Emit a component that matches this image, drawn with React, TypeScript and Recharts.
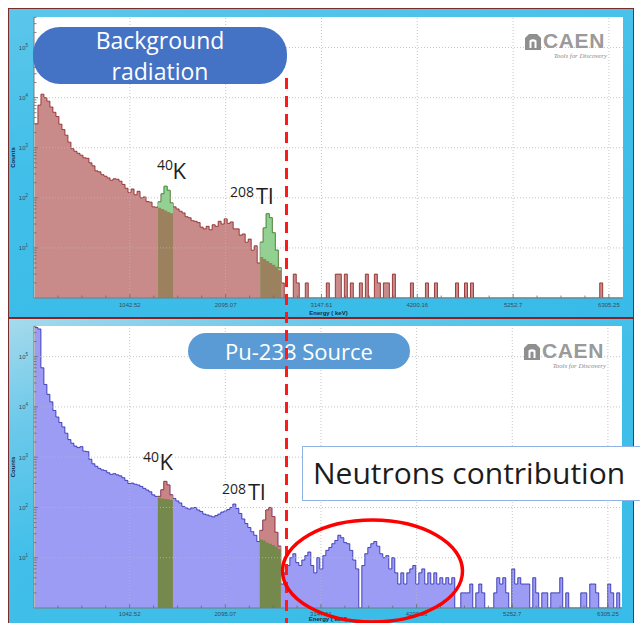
import React from 'react';
import { ComposedChart, Area, XAxis, YAxis, CartesianGrid, ReferenceLine } from 'recharts';

// ---------- data ----------
const BIN_KEV = 33;
const X_DOMAIN: [number, number] = [-10, 6460];
const X_TICKS = [1042.52, 2095.07, 3147.61, 4200.16, 5252.7, 6305.25];
const Y_MAJOR = [10, 100, 1000, 10000, 100000];
const Y_DOMAIN: [number, number] = [1, 407000];

// Background radiation spectrum (counts per 33 keV bin)
const bgCounts = [
  3000, 7100, 11700, 10000, 8500, 6500, 5100, 4200, 2950, 2300,
  1780, 1290, 955, 850, 775, 710, 630, 615, 500, 435,
  345, 330, 290, 270, 250, 225, 240, 235, 215, 185,
  155, 128, 150, 115, 135, 100, 104, 84, 82, 66,
  65, 83, 120, 170, 141, 79, 66, 60, 54, 50,
  42, 40, 35, 34, 32, 26, 24, 27, 23, 29,
  27, 34, 30, 38, 31, 33, 24, 24, 18, 19,
  13, 15, 9, 11, 5, 13, 25, 48, 40, 20,
  9, 4, 2, 1, 1, 1, 3, 2, 1, 1,
  2, 1, 1, 1, 1, 1, 1, 2, 1, 1,
  3, 3, 1, 3, 1, 2, 1, 1, 2, 1,
  3, 1, 1, 3, 2, 1, 2, 2, 1, 3,
  1, 1, 1, 1, 1, 2, 1, 1, 1, 1,
  2, 1, 1, 2, 1, 1, 1, 1, 1, 1,
  2, 1, 1, 2, 1, 2, 1, 1, 1, 1,
  1, 1, 1, 1, 1, 1, 1, 1, 1, 1,
  1, 1, 1, 1, 1, 1, 1, 1, 1, 1,
  1, 1, 1, 1, 1, 1, 1, 1, 1, 1,
  1, 1, 1, 1, 1, 1, 1, 1, 2, 1,
  1, 1, 1, 1, 1, 1,
];

// Pu-238 source spectrum (counts per 33 keV bin)
const puCounts = [
  380000, 355000, 60000, 28000, 17800, 12600, 8500, 6300, 4900, 4000,
  3000, 2240, 1900, 1660, 1550, 1620, 1320, 1290, 910, 740,
  660, 600, 560, 540, 490, 455, 470, 445, 425, 390,
  345, 300, 305, 290, 280, 262, 240, 222, 205, 178,
  166, 166, 224, 330, 280, 178, 151, 135, 123, 105,
  98, 93, 98, 100, 89, 83, 74, 71, 68, 65,
  69, 74, 81, 85, 91, 100, 117, 95, 76, 59,
  48, 40, 33, 28, 21, 35, 56, 89, 100, 66,
  32, 17, 3, 5, 7, 10, 12, 8, 7, 9,
  11, 13, 7, 5, 10, 6, 11, 14, 16, 19,
  22, 28, 25, 20, 19, 14, 9, 6, 1, 7,
  12, 16, 19, 21, 17, 12, 10, 11, 6, 10,
  5, 3, 5, 3, 5, 6, 7, 3, 5, 6,
  3, 5, 3, 5, 3, 4, 3, 4, 3, 4,
  1, 1, 2, 2, 2, 3, 1, 2, 3, 2,
  1, 1, 1, 2, 4, 3, 4, 2, 1, 6,
  3, 4, 3, 3, 3, 1, 4, 2, 1, 2,
  2, 1, 2, 2, 2, 4, 1, 2, 1, 1,
  1, 1, 2, 2, 1, 3, 3, 2, 1, 1,
  1, 3, 2, 1, 2, 1,
];

// Regions of interest (first bin index) and continuum under each peak
const K_START = 41;
const TL_START = 75;
const bgKBase = [63, 60, 56, 52, 49];
const bgTlBase = [6.6, 6.0, 5.5, 5.0, 4.6, 4.2, 3.6];
const puKBase = [155, 151, 148, 145, 141];
const puTlBase = [23, 22, 20, 19, 18, 16.6, 15];

type Row = { e: number; v: number; top: number | null; base: number | null };

function buildRows(counts: number[], kBase: number[], tlBase: number[]): Row[] {
  const rows: Row[] = counts.map((c, i) => ({ e: i * BIN_KEV, v: c, top: null, base: null }));
  rows.push({ e: X_DOMAIN[1], v: counts[counts.length - 1], top: null, base: null });
  const mark = (start: number, base: number[]) => {
    base.forEach((b, j) => {
      rows[start + j].top = counts[start + j];
      rows[start + j].base = b;
    });
    const end = start + base.length;
    rows[end].top = counts[end - 1];
    rows[end].base = base[base.length - 1];
  };
  mark(K_START, kBase);
  mark(TL_START, tlBase);
  return rows;
}

const bgRows = buildRows(bgCounts, bgKBase, bgTlBase);
const puRows = buildRows(puCounts, puKBase, puTlBase);

// axis ticks (major + minor)
const X_STEP = X_TICKS[1] - X_TICKS[0];
const X_ALL: number[] = [];
for (let k = -3; k <= 27; k++) {
  const v = k % 4 === 0 && k >= 0 ? X_TICKS[k / 4] : X_TICKS[0] + (k / 4) * X_STEP;
  if (v > X_DOMAIN[0] && v < X_DOMAIN[1]) X_ALL.push(v);
}
const Y_TICKS: number[] = [];
for (let p = 1; p <= 100000; p *= 10) {
  for (let m = 1; m <= 9; m++) {
    if (p * m < Y_DOMAIN[1] && p * m > 1) Y_TICKS.push(p * m);
  }
}

// ---------- ticks ----------
const AXIS_FONT = "'Liberation Sans', Arial, sans-serif";

const XTick = (props: any) => {
  const { x, y, payload, dir, showLabel, labelDy } = props;
  const v = payload.value;
  const major = X_TICKS.indexOf(v) >= 0;
  const len = major ? 4 : 2.5;
  return (
    <g>
      <line x1={x} x2={x} y1={y} y2={y + dir * len} stroke="#6a6a6a" strokeWidth={0.8} />
      {showLabel && major && (
        <text x={x} y={y + (labelDy || 8.5)} textAnchor="middle" fontSize={6} fill="#3c4a5c" fontFamily={AXIS_FONT}>
          {String(v)}
        </text>
      )}
    </g>
  );
};

const YTick = (props: any) => {
  const { x, y, payload, dir, showLabel } = props;
  const v = payload.value;
  const major = Y_MAJOR.indexOf(v) >= 0;
  const len = major ? 4 : 2.5;
  const exp = Math.round(Math.log10(v));
  return (
    <g>
      <line x1={x} x2={x + dir * len} y1={y} y2={y} stroke="#6a6a6a" strokeWidth={0.8} />
      {showLabel && major && (
        <text x={x - 6} y={y + 2.5} textAnchor="end" fontSize={6} fill="#3c4a5c" fontFamily={AXIS_FONT}>
          10
          <tspan dy={-3} fontSize={4.5}>
            {exp}
          </tspan>
        </text>
      )}
    </g>
  );
};

const XLabel = (props: any) => {
  const vb = props.viewBox || {};
  return (
    <text
      x={vb.x + vb.width / 2}
      y={vb.y + (props.dy || 17)}
      textAnchor="middle"
      fontSize={6}
      fontWeight="bold"
      fill="#1d2b45"
      fontFamily={AXIS_FONT}
    >
      Energy ( keV)
    </text>
  );
};

const YLabel = (props: any) => {
  const vb = props.viewBox || {};
  const cx = vb.x + 7;
  const cy = vb.y + vb.height / 2;
  return (
    <text
      x={cx}
      y={cy}
      transform={`rotate(-90 ${cx} ${cy})`}
      textAnchor="middle"
      fontSize={6}
      fontWeight="bold"
      fill="#1d2b45"
      fontFamily={AXIS_FONT}
    >
      Counts
    </text>
  );
};

// ---------- spectrum panel ----------
type Colors = { fill: string; stroke: string; peakFill: string; peakStroke: string; baseFill: string };

function Spectrum({
  rows,
  height,
  axisHeight,
  marginTop,
  marginRight,
  colors,
  tickDy,
  labelDy,
}: {
  rows: Row[];
  height: number;
  axisHeight: number;
  marginTop: number;
  marginRight: number;
  colors: Colors;
  tickDy: number;
  labelDy: number;
}) {
  return (
    <ComposedChart width={625} height={height} data={rows} margin={{ top: marginTop, right: marginRight, bottom: 0, left: 0 }}>
      <CartesianGrid fill="#ffffff" fillOpacity={1} horizontal={false} vertical={false} />
      <XAxis
        dataKey="e"
        type="number"
        domain={X_DOMAIN}
        allowDataOverflow
        ticks={X_ALL}
        interval={0}
        height={axisHeight}
        tickSize={0}
        tickMargin={0}
        tickLine={false}
        axisLine={{ stroke: '#7a7a7a' }}
        tick={<XTick dir={-1} showLabel labelDy={tickDy} />}
        label={<XLabel dy={labelDy} />}
      />
      <XAxis
        xAxisId="t"
        orientation="top"
        dataKey="e"
        type="number"
        domain={X_DOMAIN}
        allowDataOverflow
        ticks={X_ALL}
        interval={0}
        height={0}
        tickSize={0}
        tickMargin={0}
        tickLine={false}
        axisLine={{ stroke: '#7a7a7a' }}
        tick={<XTick dir={1} />}
      />
      <YAxis
        type="number"
        scale="log"
        domain={Y_DOMAIN}
        allowDataOverflow
        ticks={Y_TICKS}
        interval={0}
        width={26}
        tickSize={0}
        tickMargin={0}
        tickLine={false}
        axisLine={{ stroke: '#7a7a7a' }}
        tick={<YTick dir={1} showLabel />}
        label={<YLabel />}
      />
      <YAxis
        yAxisId="r"
        orientation="right"
        type="number"
        scale="log"
        domain={Y_DOMAIN}
        allowDataOverflow
        ticks={Y_TICKS}
        interval={0}
        width={0}
        tickSize={0}
        tickMargin={0}
        tickLine={false}
        axisLine={{ stroke: '#7a7a7a' }}
        tick={<YTick dir={-1} />}
      />
      <Area
        type="stepAfter"
        dataKey="v"
        baseValue={1}
        stroke={colors.stroke}
        strokeWidth={0.8}
        fill={colors.fill}
        fillOpacity={1}
        dot={false}
        activeDot={false}
        isAnimationActive={false}
      />
      <Area
        type="stepAfter"
        dataKey="top"
        baseValue={1}
        stroke={colors.peakStroke}
        strokeWidth={0.8}
        fill={colors.peakFill}
        fillOpacity={1}
        dot={false}
        activeDot={false}
        isAnimationActive={false}
      />
      <Area
        type="stepAfter"
        dataKey="base"
        baseValue={1}
        stroke="none"
        fill={colors.baseFill}
        fillOpacity={1}
        dot={false}
        activeDot={false}
        isAnimationActive={false}
      />
      {X_TICKS.map((t) => (
        <ReferenceLine key={'gx' + t} x={t} stroke="#b8b8b8" strokeWidth={0.8} strokeDasharray="1 2" />
      ))}
      {Y_MAJOR.map((t) => (
        <ReferenceLine key={'gy' + t} y={t} stroke="#b8b8b8" strokeWidth={0.8} strokeDasharray="1 2" />
      ))}
    </ComposedChart>
  );
}

// ---------- decorations ----------
function CaenLogo({ left, top }: { left: number; top: number }) {
  return (
    <div style={{ position: 'absolute', left, top, width: 90, height: 30 }}>
      <svg width={18} height={18} style={{ position: 'absolute', left: 0, top: 0 }}>
        <path d="M5 1 L13 1 L17 5 L17 17 L1 17 L1 5 Z" fill="#8f8f8f" />
        <path d="M5.5 15 L5.5 7.5 Q9 5 12.5 7.5 L12.5 15 L10.5 15 L10.5 9 Q9 8 7.5 9 L7.5 15 Z" fill="#ffffff" />
      </svg>
      <div
        style={{
          position: 'absolute',
          left: 19,
          top: -4,
          fontFamily: AXIS_FONT,
          fontWeight: 'bold',
          fontSize: 21,
          letterSpacing: 0.6,
          color: '#9a9a9a',
          lineHeight: '24px',
        }}
      >
        CAEN
      </div>
      <div
        style={{
          position: 'absolute',
          right: 7,
          top: 19,
          fontFamily: "'Liberation Serif', serif",
          fontStyle: 'italic',
          fontSize: 6.8,
          color: '#8a8a8a',
          whiteSpace: 'nowrap',
          lineHeight: '8px',
        }}
      >
        Tools for Discovery
      </div>
    </div>
  );
}

const SLIDE_FONT = "'Open Sans', 'Noto Sans', sans-serif";

export default function App() {
  const bgColors: Colors = {
    fill: '#c98a8a',
    stroke: '#8a1c1c',
    peakFill: '#92d192',
    peakStroke: '#3f9c3f',
    baseFill: '#9b815d',
  };
  const puColors: Colors = {
    fill: '#9c9cf4',
    stroke: '#2222ae',
    peakFill: '#c98585',
    peakStroke: '#a33a3a',
    baseFill: '#76894c',
  };
  return (
    <div style={{ position: 'absolute', left: 0, top: 0, width: 640, height: 623, overflow: 'hidden', background: '#ffffff' }}>
      {/* top panel frame */}
      <div
        style={{
          position: 'absolute',
          left: 8,
          top: 8,
          width: 626,
          height: 310,
          boxSizing: 'border-box',
          border: '1px solid #7c2c2c',
          background: 'linear-gradient(170deg, #5cc6ea 0%, #41bfe9 40%, #38bbe8 100%)',
        }}
      />
      {/* bottom panel frame */}
      <div
        style={{
          position: 'absolute',
          left: 8,
          top: 317,
          width: 626,
          height: 320,
          boxSizing: 'border-box',
          border: '1px solid #7c2c2c',
          borderTop: '2px solid #8a2424',
          background: 'linear-gradient(160deg, #a6daec 0%, #6cc9ea 20%, #41bfe9 45%, #38bbe8 100%)',
        }}
      />
      <div style={{ position: 'absolute', left: 8, top: 8 }}>
        <Spectrum rows={bgRows} height={309} axisHeight={19} marginTop={9} marginRight={10} colors={bgColors} tickDy={8.5} labelDy={17} />
      </div>
      <div style={{ position: 'absolute', left: 8, top: 318 }}>
        <Spectrum rows={puRows} height={310} axisHeight={20} marginTop={8} marginRight={11} colors={puColors} tickDy={7.5} labelDy={13.3} />
      </div>

      <CaenLogo left={524} top={33} />
      <CaenLogo left={523} top={343} />

      {/* title pills */}
      <div
        style={{
          position: 'absolute',
          left: 33,
          top: 27,
          width: 254,
          height: 57,
          borderRadius: 27,
          background: '#4472c4',
          color: '#ffffff',
          fontFamily: SLIDE_FONT,
          fontSize: 23,
          lineHeight: '31px',
          textAlign: 'center',
          paddingTop: 0,
          boxSizing: 'border-box',
        }}
      >
        <div style={{ marginTop: -2 }}>Background</div>
        <div>radiation</div>
      </div>
      <div
        style={{
          position: 'absolute',
          left: 188,
          top: 333,
          width: 222,
          height: 36,
          borderRadius: 18,
          background: '#5b9bd5',
          color: '#ffffff',
          fontFamily: SLIDE_FONT,
          fontSize: 22,
          lineHeight: '36px',
          textAlign: 'center',
        }}
      >
        Pu-238 Source
      </div>
      <div
        style={{
          position: 'absolute',
          left: 302,
          top: 446,
          width: 360,
          height: 55,
          boxSizing: 'border-box',
          border: '1.5px solid #8fb4e3',
          background: '#ffffff',
          color: '#1c1c1c',
          fontFamily: SLIDE_FONT,
          fontSize: 30,
          lineHeight: '52px',
          paddingLeft: 10,
          whiteSpace: 'nowrap',
        }}
      >
        Neutrons contribution
      </div>

      {/* annotations */}
      <svg width={640} height={623} style={{ position: 'absolute', left: 0, top: 0, pointerEvents: 'none' }}>
        <g fontFamily={SLIDE_FONT} fill="#1e1e1e">
          <text x={157} y={170} fontSize={14}>40</text>
          <text x={172.5} y={178.5} fontSize={22}>K</text>
          <text x={230} y={197} fontSize={14}>208</text>
          <text x={256} y={204} fontSize={22}>Tl</text>
          <text x={143} y={461.5} fontSize={14}>40</text>
          <text x={159.5} y={469.5} fontSize={22}>K</text>
          <text x={222} y={493.5} fontSize={14}>208</text>
          <text x={248} y={500} fontSize={22}>Tl</text>
        </g>
        <line x1={286.5} x2={286.5} y1={78} y2={623} stroke="#ff1a1a" strokeWidth={3} strokeDasharray="11 7" />
        <ellipse cx={372.5} cy={571} rx={90} ry={51} fill="none" stroke="#ff0000" strokeWidth={3.5} />
      </svg>
    </div>
  );
}
